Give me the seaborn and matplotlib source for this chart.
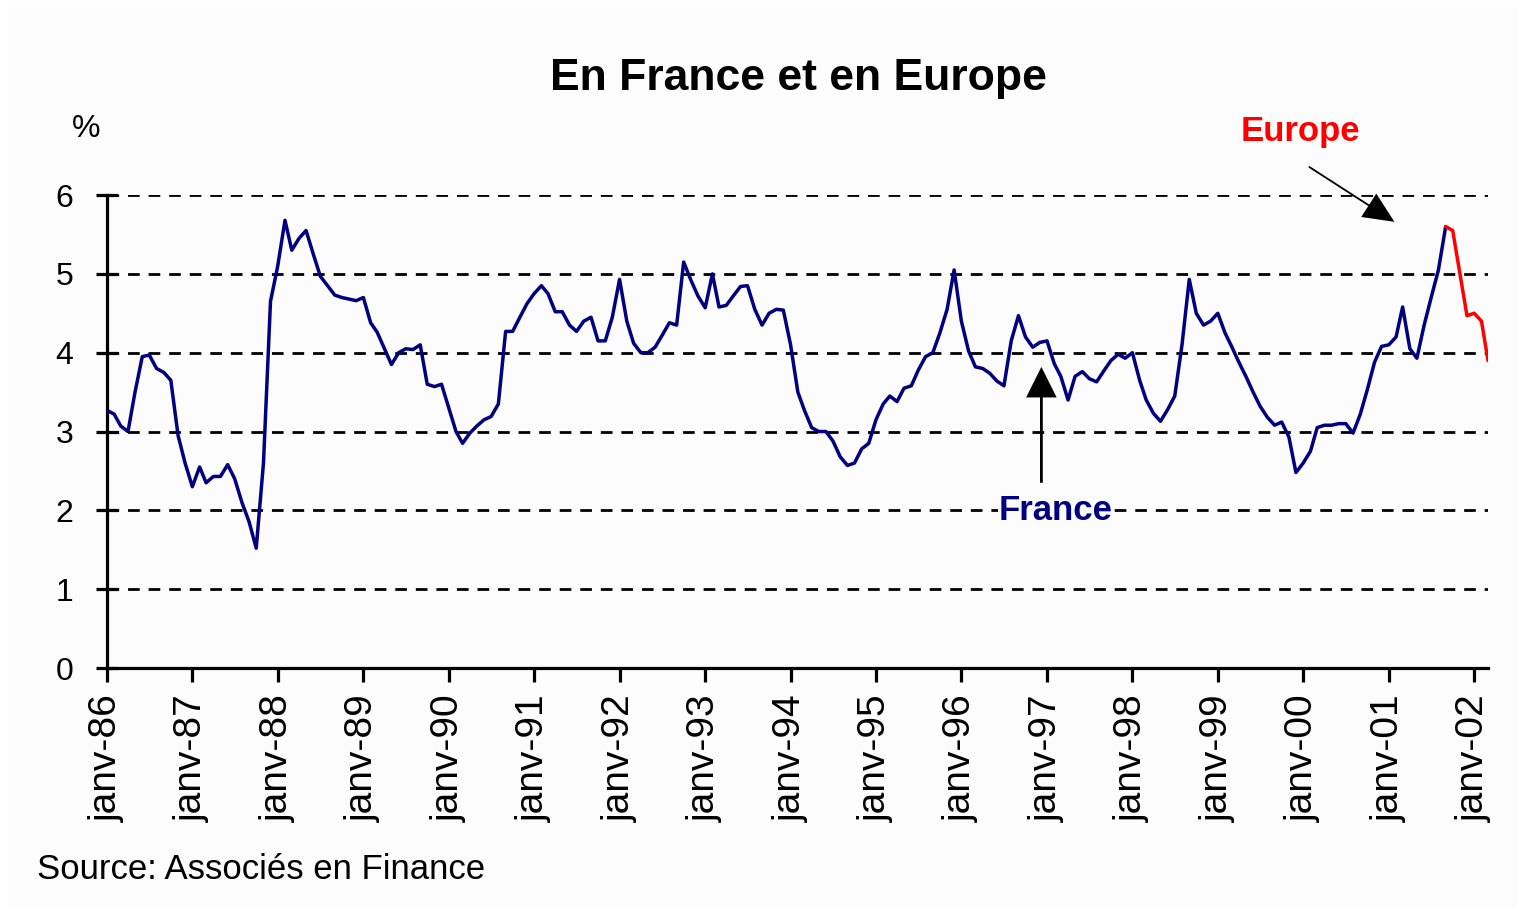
import matplotlib
matplotlib.use("Agg")
import matplotlib.dates as mdates
import matplotlib.pyplot as plt
import pandas as pd
import seaborn as sns
from matplotlib.patches import Rectangle

# monthly values, janv-86 .. sept-01 (France) and sept-01 .. mars-02 (Europe)
taux_france = [
    3.27, 3.22, 3.07, 3.00, 3.50, 3.95, 3.97, 3.80, 3.75, 3.65, 2.95, 2.60,
    2.30, 2.55, 2.35, 2.43, 2.43, 2.58, 2.40, 2.10, 1.85, 1.52, 2.60, 4.65,
    5.10, 5.68, 5.30, 5.45, 5.55, 5.25, 4.97, 4.85, 4.73, 4.70, 4.68, 4.66,
    4.70, 4.38, 4.26, 4.05, 3.85, 4.00, 4.05, 4.04, 4.10, 3.60, 3.57, 3.60,
    3.30, 3.00, 2.85, 2.98, 3.07, 3.15, 3.19, 3.35, 4.27, 4.27, 4.45, 4.62,
    4.75, 4.85, 4.75, 4.52, 4.52, 4.35, 4.27, 4.40, 4.45, 4.15, 4.15, 4.45,
    4.93, 4.40, 4.12, 4.00, 4.00, 4.07, 4.22, 4.38, 4.35, 5.15, 4.92, 4.72,
    4.57, 5.00, 4.58, 4.60, 4.72, 4.84, 4.85, 4.55, 4.35, 4.50, 4.55, 4.54,
    4.10, 3.50, 3.27, 3.05, 3.00, 3.00, 2.88, 2.68, 2.57, 2.60, 2.78, 2.85,
    3.15, 3.35, 3.45, 3.38, 3.55, 3.58, 3.78, 3.95, 4.00, 4.25, 4.55, 5.05,
    4.40, 4.02, 3.82, 3.80, 3.74, 3.64, 3.58, 4.15, 4.47, 4.20, 4.07, 4.13,
    4.15, 3.86, 3.70, 3.40, 3.70, 3.76, 3.67, 3.63, 3.77, 3.90, 3.98, 3.93,
    4.00, 3.65, 3.40, 3.23, 3.13, 3.28, 3.45, 4.10, 4.93, 4.50, 4.35, 4.40,
    4.50, 4.25, 4.08, 3.88, 3.70, 3.50, 3.32, 3.18, 3.08, 3.12, 2.93, 2.48,
    2.60, 2.75, 3.05, 3.08, 3.08, 3.10, 3.10, 2.98, 3.22, 3.53, 3.88, 4.08,
    4.10, 4.20, 4.58, 4.05, 3.93, 4.35, 4.70, 5.05, 5.60,
]
taux_europe = [5.60, 5.55, 5.00, 4.47, 4.50, 4.40, 3.90]

tick_labels = ["janv-86", "janv-87", "janv-88", "janv-89", "janv-90", "janv-91",
               "janv-92", "janv-93", "janv-94", "janv-95", "janv-96", "janv-97",
               "janv-98", "janv-99", "janv-00", "janv-01", "janv-02"]
y_ticks = [0, 1, 2, 3, 4, 5, 6]

dates_france = pd.date_range("1986-01-01", periods=len(taux_france), freq="MS")
dates_europe = pd.date_range("2001-09-01", periods=len(taux_europe), freq="MS")

df = pd.concat([
    pd.DataFrame({"date": dates_france, "taux": taux_france, "zone": "France"}),
    pd.DataFrame({"date": dates_europe, "taux": taux_europe, "zone": "Europe"}),
], ignore_index=True)

sns.set_theme(style="white")
plt.rcParams["font.family"] = ["Liberation Sans", "DejaVu Sans"]
plt.rcParams["text.color"] = "black"
plt.rcParams["xtick.color"] = "black"
plt.rcParams["ytick.color"] = "black"
plt.rcParams["axes.labelcolor"] = "black"

NAVY = "#000080"
RED = "#ff0000"
BG = "#fbfcfb"

fig = plt.figure(figsize=(15.17, 9.08), dpi=100, facecolor="white")
fig.patches.append(Rectangle((8 / 1517, 0), 1, 1 - 7 / 908, transform=fig.transFigure,
                             facecolor=BG, edgecolor="none", zorder=-10))
ax = fig.add_axes([0.0705, 0.2643, 0.9104, 0.5209])
ax.set_facecolor("none")

sns.lineplot(data=df, x="date", y="taux", hue="zone",
             palette={"France": NAVY, "Europe": RED},
             linewidth=2.5, legend=False, ax=ax, zorder=3)

ax.set_ylim(0, 6)
ax.set_xlim(dates_france[0], dates_europe[-1])
ax.set_yticks(y_ticks)
ax.set_yticklabels([str(v) for v in y_ticks], fontsize=23)
year_ticks = pd.date_range("1986-01-01", periods=len(tick_labels), freq="YS")
ax.set_xticks(year_ticks)
ax.set_xticklabels(tick_labels, rotation=90, fontsize=28, va="top", ha="center")
ax.set_xlabel("")
ax.set_ylabel("")

for v in y_ticks[1:]:
    ax.axhline(v, color="black", linewidth=2.0, linestyle=(0, (4.2, 3.2)), zorder=1)

for side in ["top", "right"]:
    ax.spines[side].set_visible(False)
for side in ["left", "bottom"]:
    ax.spines[side].set_color("black")
    ax.spines[side].set_linewidth(2.3)
ax.tick_params(axis="y", direction="inout", length=16, width=2.3, color="black", pad=16, left=True)
ax.tick_params(axis="x", direction="out", length=10, width=2.3, color="black", pad=9, bottom=True)

fig.text(0.526, 0.914, "En France et en Europe", fontsize=32, fontweight="bold",
         ha="center", va="center")
fig.text(0.0567, 0.858, "%", fontsize=23, ha="center", va="center")
fig.text(0.0244, 0.042, "Source: Associés en Finance", fontsize=25, ha="left", va="center")

d = mdates.date2num
# France label and arrow
ax.annotate("", xy=(d(pd.Timestamp("1996-12-08")), 3.82),
            xytext=(d(pd.Timestamp("1996-12-08")), 2.35),
            arrowprops=dict(facecolor="black", edgecolor="black", width=2.0,
                            headwidth=22, headlength=22, shrink=0, linewidth=0),
            annotation_clip=False, zorder=4)
ax.text(d(pd.Timestamp("1997-02-05")), 2.0, "France", color=NAVY, fontsize=25,
        fontweight="bold", ha="center", va="center", zorder=5,
        bbox=dict(facecolor=BG, edgecolor="none", pad=0.5))

# Europe label and arrow
ax.annotate("", xy=(d(pd.Timestamp("2001-01-25")), 5.66),
            xytext=(d(pd.Timestamp("2000-01-25")), 6.36),
            arrowprops=dict(facecolor="black", edgecolor="black", width=1.3,
                            headwidth=20, headlength=22, shrink=0, linewidth=0),
            annotation_clip=False, zorder=4)
ax.text(d(pd.Timestamp("1999-12-20")), 6.81, "Europe", color=RED, fontsize=25,
        fontweight="bold", ha="center", va="center", clip_on=False)

fig.savefig("out.png", dpi=100, facecolor=fig.get_facecolor())
